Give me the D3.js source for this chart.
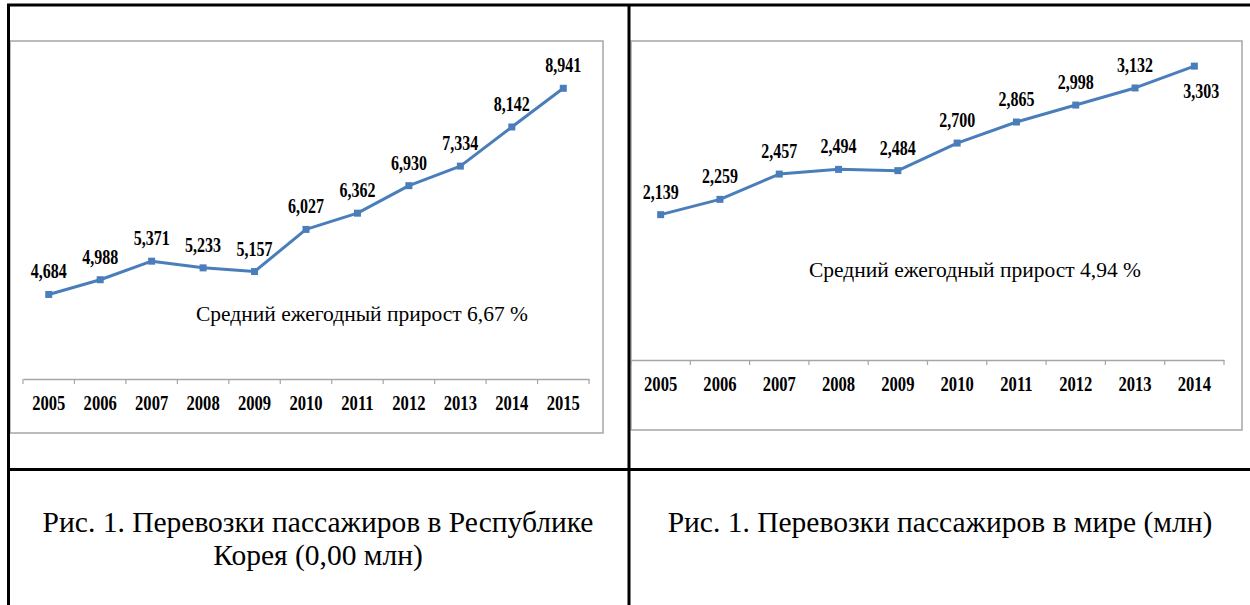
<!DOCTYPE html>
<html>
<head>
<meta charset="utf-8">
<script src="https://cdn.jsdelivr.net/npm/d3@7"></script>
<style>
  body { margin: 0; background: #fff; }
  svg { display: block; }
</style>
</head>
<body>
<svg id="chart" width="1250" height="605"></svg>
<script>
// Passenger traffic, Republic of Korea
const koreaYears = ['2005', '2006', '2007', '2008', '2009', '2010', '2011', '2012', '2013', '2014', '2015'];
const koreaValues = [4684, 4988, 5371, 5233, 5157, 6027, 6362, 6930, 7334, 8142, 8941];

// Passenger traffic, world
const worldYears = ['2005', '2006', '2007', '2008', '2009', '2010', '2011', '2012', '2013', '2014'];
const worldValues = [2139, 2259, 2457, 2494, 2484, 2700, 2865, 2998, 3132, 3303];

const annotations = ['Средний ежегодный прирост 6,67 %', 'Средний ежегодный прирост 4,94 %'];
const captions = [
    ['Рис. 1. Перевозки пассажиров в Республике', 'Корея (0,00 млн)'],
    ['Рис. 1. Перевозки пассажиров в мире (млн)']
];

const FONT = "'Liberation Serif', 'Times New Roman', serif";
const LINE_COLOR = '#4a7ebb';
const AXIS_COLOR = '#a6a6a6';
const fmt = d3.format(',');

const svg = d3.select('#chart');

// squeeze text horizontally, the source picture uses a narrow bold face
function squeeze(sel, k) {
    sel.each(function () {
        const len = this.getComputedTextLength();
        d3.select(this).attr('textLength', len * k).attr('lengthAdjust', 'spacingAndGlyphs');
    });
}

function drawPanel(cfg) {
    const g = svg.append('g');

    // chart frame
    g.append('rect')
        .attr('x', cfg.box.x).attr('y', cfg.box.y)
        .attr('width', cfg.box.w).attr('height', cfg.box.h)
        .attr('fill', '#fff')
        .attr('stroke', AXIS_COLOR)
        .attr('stroke-width', 1.5);

    const x = d3.scaleBand()
        .domain(cfg.years)
        .range(cfg.xRange)
        .padding(0);

    const y = d3.scaleLinear()
        .domain(cfg.yDomain)
        .range(cfg.yRange);

    const axisY = cfg.yRange[0] + cfg.axisShift;

    // category axis
    const axis = g.append('g')
        .attr('transform', `translate(0, ${axisY})`)
        .call(d3.axisBottom(x).tickSize(0).tickSizeOuter(0).tickPadding(17));

    axis.select('.domain')
        .attr('stroke', AXIS_COLOR)
        .attr('stroke-width', 1.5);

    axis.selectAll('text')
        .style('font-family', FONT)
        .style('font-size', '20px')
        .style('font-weight', 'bold')
        .attr('fill', '#000')
        .call(squeeze, 0.83);

    // tick marks between categories
    const bounds = cfg.years.map(d => x(d)).concat([x.range()[1]]);
    g.append('g')
        .selectAll('line')
        .data(bounds)
        .enter()
        .append('line')
        .attr('x1', d => d).attr('x2', d => d)
        .attr('y1', axisY).attr('y2', axisY + 5)
        .attr('stroke', AXIS_COLOR)
        .attr('stroke-width', 1.2);

    const cx = (d, i) => x(cfg.years[i]) + x.bandwidth() / 2;

    const line = d3.line()
        .x((d, i) => cx(d, i))
        .y(d => y(d));

    g.append('path')
        .datum(cfg.values)
        .attr('d', line)
        .attr('fill', 'none')
        .attr('stroke', LINE_COLOR)
        .attr('stroke-width', 3)
        .attr('stroke-linejoin', 'round');

    g.selectAll('.marker')
        .data(cfg.values)
        .enter()
        .append('rect')
        .attr('class', 'marker')
        .attr('x', (d, i) => cx(d, i) - 3.5)
        .attr('y', d => y(d) - 3.5)
        .attr('width', 7).attr('height', 7)
        .attr('fill', LINE_COLOR);

    // data labels
    const last = cfg.values.length - 1;
    g.selectAll('.label')
        .data(cfg.values)
        .enter()
        .append('text')
        .attr('class', 'label')
        .attr('x', (d, i) => cx(d, i) + (cfg.lastBelow && i === last ? 7 : 0))
        .attr('y', (d, i) => y(d) + (cfg.lastBelow && i === last ? 32 : -16))
        .attr('text-anchor', 'middle')
        .style('font-family', FONT)
        .style('font-size', '20px')
        .style('font-weight', 'bold')
        .attr('fill', '#000')
        .text(d => fmt(d))
        .call(squeeze, 0.8);

    // growth note
    g.append('text')
        .attr('x', cfg.note.x)
        .attr('y', cfg.note.y)
        .attr('text-anchor', 'middle')
        .style('font-family', FONT)
        .style('font-size', '21.5px')
        .attr('fill', '#000')
        .text(cfg.noteText);

    // figure caption
    g.append('g')
        .selectAll('text')
        .data(cfg.caption)
        .enter()
        .append('text')
        .attr('x', cfg.captionX)
        .attr('y', (d, i) => 532 + i * 33)
        .attr('text-anchor', 'middle')
        .style('font-family', FONT)
        .style('font-size', '29.5px')
        .attr('fill', '#000')
        .text(d => d);
}

drawPanel({
    years: koreaYears,
    values: koreaValues,
    box: { x: 10, y: 41, w: 593, h: 392 },
    xRange: [23, 589],
    yDomain: [3000, 10000],
    yRange: [376, 37],
    axisShift: 3,
    note: { x: 362, y: 321 },
    noteText: annotations[0],
    caption: captions[0],
    captionX: 318,
    lastBelow: false
});

drawPanel({
    years: worldYears,
    values: worldValues,
    box: { x: 631, y: 41, w: 611, h: 389 },
    xRange: [631, 1224],
    yDomain: [1000, 3500],
    yRange: [360, 41],
    axisShift: 0,
    note: { x: 975, y: 277 },
    noteText: annotations[1],
    caption: captions[1],
    captionX: 940,
    lastBelow: true
});

// table rules
const rules = [
    [7, 5, 1250, 5],
    [8.5, 4, 8.5, 605],
    [629, 4, 629, 605],
    [7, 469.5, 1250, 469.5]
];
svg.append('g')
    .selectAll('line')
    .data(rules)
    .enter()
    .append('line')
    .attr('x1', d => d[0]).attr('y1', d => d[1])
    .attr('x2', d => d[2]).attr('y2', d => d[3])
    .attr('stroke', '#000')
    .attr('stroke-width', 3);
</script>
</body>
</html>
